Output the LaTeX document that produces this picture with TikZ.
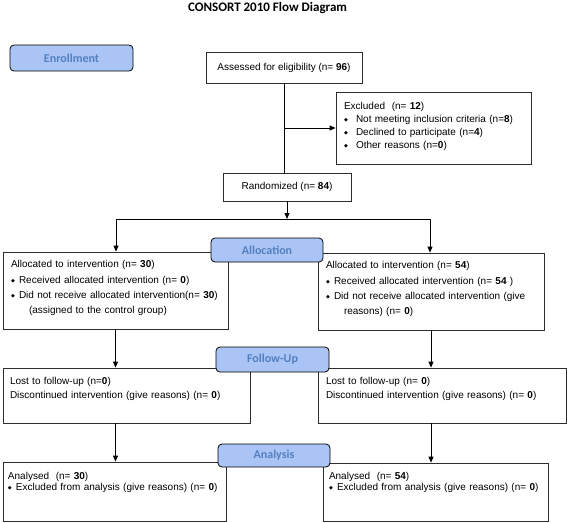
\documentclass[tikz,border=0pt]{standalone}
\usepackage{fontspec}
\setmainfont{Liberation Sans}
\newfontfamily\headfont{Carlito}
\newfontfamily\symfont{DejaVu Sans}
\usetikzlibrary{arrows.meta}

\definecolor{stagefill}{RGB}{170,196,246}
\definecolor{stagetext}{RGB}{84,128,192}
\definecolor{boxline}{RGB}{45,45,45}

\newcommand{\dmd}[1][8pt]{\makebox[#1][l]{\raisebox{0.8pt}{\symfont\fontsize{5}{5}\selectfont ◆}}}

\tikzset{
  >={Triangle[length=6pt,width=5pt]},
  stage/.style={draw=black, line width=0.8pt, fill=stagefill, rounded corners=4pt,
    inner sep=0pt, text=stagetext, font=\headfont\bfseries\fontsize{12}{12}\selectfont},
  centerbox/.style={draw=boxline, line width=0.8pt, inner sep=0pt, font=\fontsize{10}{12}\selectfont},
  outbox/.style={draw=boxline, line width=0.8pt, align=left, inner ysep=0pt, inner xsep=8pt}
}

\begin{document}
\begin{tikzpicture}[x=1pt,y=-1pt,line width=0.8pt]

\useasboundingbox (0,0) rectangle (567,522);

\node [font=\headfont\bfseries\fontsize{13}{13}\selectfont] (title) at (267.5,8) {CONSORT 2010 Flow Diagram};

% stage labels
\node [stage, minimum width=123pt, minimum height=26pt] (enroll) at (71.5,58) {Enrollment};

% enrollment
\node [centerbox, minimum width=156pt, minimum height=31pt] (assess) at (284,67.5) {Assessed for eligibility (n= \textbf{96})};
\node [outbox, text width=179pt, text height=17.7pt, text depth=54.3pt, font=\fontsize{10}{13}\selectfont] (excl) at (433.5,128)
  {Excluded\ \ (n= \textbf{12})\\
   \dmd[12pt]Not meeting inclusion criteria (n=\textbf{8})\\
   \dmd[12pt]Declined to participate (n=\textbf{4})\\
   \dmd[12pt]Other reasons (n=\textbf{0})};
\node [centerbox, minimum width=128pt, minimum height=28pt] (rand) at (287,187) {Randomized (n= \textbf{84})};

\draw (assess.south) -- (assess.south |- rand.north);
\draw[->] (assess.south |- excl.west) -- (excl.west);

% allocation
\coordinate (split) at (287,219);
\coordinate (splitL) at (116,219);
\coordinate (splitR) at (430,219);
\draw[->] (rand.south) -- (split);
\draw (splitL) -- (splitR);

\node [outbox, text width=209pt, text height=15.7pt, text depth=61.3pt, font=\fontsize{10}{15.3}\selectfont] (allocL) at (115.5,290.5)
  {Allocated to intervention (n= \textbf{30})\\
   \dmd Received allocated intervention (n= \textbf{0})\\
   \dmd Did not receive allocated intervention(n= \textbf{30})\\
   \hspace*{18pt}(assigned to the control group)};
\node [outbox, text width=210pt, text height=15.7pt, text depth=61.3pt, font=\fontsize{10}{15.3}\selectfont] (allocR) at (431,291.5)
  {Allocated to intervention (n= \textbf{54})\\
   \dmd Received allocated intervention (n= \textbf{54} )\\
   \dmd Did not receive allocated intervention (give\\
   \hspace*{18pt}reasons) (n= \textbf{0})};
\node [stage, minimum width=112pt, minimum height=24pt] (alloc) at (267,250) {Allocation};

\draw[->] (splitL) -- (splitL |- allocL.north);
\draw[->] (splitR) -- (splitR |- allocR.north);

% follow-up
\node [outbox, inner xsep=7pt, text width=233pt, text height=16.7pt, text depth=38.3pt, font=\fontsize{10}{14}\selectfont] (followL) at (126.5,395.5)
  {Lost to follow-up (n=\textbf{0})\\
   Discontinued intervention (give reasons) (n= \textbf{0})};
\node [outbox, text width=232pt, text height=16.7pt, text depth=38.3pt, font=\fontsize{10}{14}\selectfont] (followR) at (442,395.5)
  {Lost to follow-up (n= \textbf{0})\\
   Discontinued intervention (give reasons) (n= \textbf{0})};
\node [stage, minimum width=113pt, minimum height=25pt] (follow) at (272.5,359.5) {Follow-Up};

\draw[->] (allocL.south) -- (allocL.south |- followL.north);
\draw[->] (allocR.south) -- (allocR.south |- followR.north);

% analysis
\node [outbox, inner xsep=5pt, text width=213pt, text height=17.7pt, text depth=41.3pt, font=\fontsize{10}{11}\selectfont] (anaL) at (114.5,491.5)
  {Analysed\ \ (n= \textbf{30})\\
   \dmd Excluded from analysis (give reasons) (n= \textbf{0})};
\node [outbox, inner xsep=6pt, text width=213pt, text height=16.7pt, text depth=41.3pt, font=\fontsize{10}{11}\selectfont] (anaR) at (435.5,492)
  {Analysed\ \ (n= \textbf{54})\\
   \dmd Excluded from analysis (give reasons) (n= \textbf{0})};
\node [stage, minimum width=112pt, minimum height=23pt] (analysis) at (274,455.5) {Analysis};

\draw[->] (followL.south -| allocL.south) -- (anaL.north -| allocL.south);
\draw[->] (followR.south -| allocR.south) -- (anaR.north -| allocR.south);

\end{tikzpicture}
\end{document}
